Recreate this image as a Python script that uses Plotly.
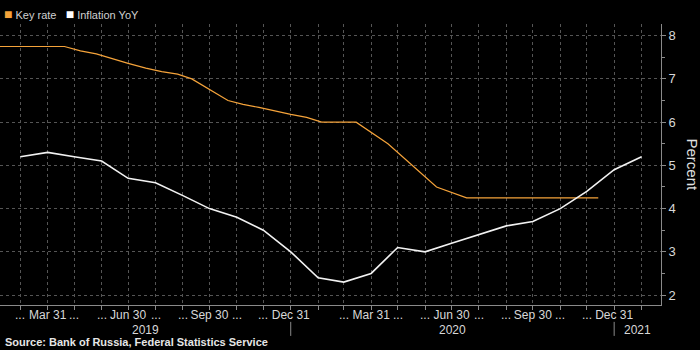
import plotly.graph_objects as go
import pandas as pd

# ---------------- data ----------------
infl_dates = ["2019-02-28", "2019-03-31", "2019-04-30", "2019-05-31", "2019-06-30", "2019-07-31",
              "2019-08-31", "2019-09-30", "2019-10-31", "2019-11-30", "2019-12-31",
              "2020-01-31", "2020-02-29", "2020-03-31", "2020-04-30", "2020-05-31", "2020-06-30",
              "2020-07-31", "2020-08-31", "2020-09-30", "2020-10-31", "2020-11-30", "2020-12-31",
              "2021-01-31"]
infl_values = [5.2, 5.3, 5.2, 5.1, 4.7, 4.6, 4.3, 4.0, 3.8, 3.5, 3.0,
               2.4, 2.3, 2.5, 3.1, 3.0, 3.2, 3.4, 3.6, 3.7, 4.0, 4.4, 4.9,
               5.2]

rate_dates = ["2019-01-31", "2019-04-19", "2019-05-07", "2019-05-25", "2019-06-30", "2019-07-20",
              "2019-08-07", "2019-08-25", "2019-09-10", "2019-10-21", "2019-11-07", "2019-11-25",
              "2019-12-31", "2020-01-18", "2020-02-04", "2020-03-14", "2020-04-19", "2020-06-13",
              "2020-07-17", "2020-12-13"]
rate_values = [7.75, 7.75, 7.65, 7.58, 7.36, 7.25,
               7.17, 7.11, 7.0, 6.5, 6.41, 6.34,
               6.18, 6.11, 6.0, 6.0, 5.5, 4.5,
               4.25, 4.25]

tick_dates = infl_dates
tick_labels = ["...", "Mar 31", "...", "...", "Jun 30", "...", "...", "Sep 30", "...", "...", "Dec 31",
               "", "...", "Mar 31", "...", "...", "Jun 30", "...", "...", "Sep 30", "...", "...", "Dec 31",
               ""]

years = ["2019", "2020", "2021"]
x_range = ["2019-02-05", "2021-02-22"]

source_text = "Source: Bank of Russia, Federal Statistics Service"

ORANGE = "#f5a33a"
WHITE = "#f2f2f2"
GRID = "#555555"
AXIS = "#8a8a8a"
TXT = "#d8d8d8"
FONT = "Liberation Sans, Arial, sans-serif"

# named quarter-end labels on the axis; "..." placeholders as text labels under their ticks
main_text = [t if t != "..." else "" for t in tick_labels]

fig = go.Figure()
fig.add_trace(go.Scatter(x=rate_dates, y=rate_values, mode="lines", name="Key rate",
                         line=dict(color=ORANGE, width=1.2), showlegend=False))
fig.add_trace(go.Scatter(x=infl_dates, y=infl_values, mode="lines", name="Inflation YoY",
                         line=dict(color=WHITE, width=1.6), showlegend=False))

annotations = []
shapes = []
for d, t in zip(tick_dates, tick_labels):
    if t == "...":
        annotations.append(dict(x=d, y=0, xref="x", yref="paper", yanchor="top", yshift=-1,
                                text=t, showarrow=False,
                                font=dict(size=12, color=TXT, family=FONT)))

# year labels and separators computed from the axis range
lo = pd.Timestamp(x_range[0])
hi = pd.Timestamp(x_range[1])
for y in years:
    start = max(lo, pd.Timestamp(f"{int(y)-1}-12-31"))
    end = min(hi, pd.Timestamp(f"{y}-12-31"))
    mid = start + (end - start) / 2
    annotations.append(dict(x=mid, y=-0.088, xref="x", yref="paper", text=y, showarrow=False,
                            font=dict(size=12, color=TXT, family=FONT), yanchor="middle"))
    if start > lo:
        shapes.append(dict(type="line", xref="x", yref="paper", x0=start, x1=start,
                           y0=-0.06, y1=-0.11, line=dict(color=AXIS, width=1)))

annotations.append(dict(x=0, y=-0.132, xref="paper", yref="paper", xanchor="left", yanchor="middle",
                        xshift=3, text=f"<b>{source_text}</b>", showarrow=False,
                        font=dict(size=11, color="#e6e6e6", family=FONT)))
annotations.append(dict(x=0, y=1.036, xref="paper", yref="paper", xanchor="left", yanchor="middle",
                        xshift=2, showarrow=False,
                        text=(f"<span style='color:{ORANGE};font-size:14px'>■</span> Key rate   "
                              f"<span style='color:#ffffff;font-size:14px'>■</span> Inflation YoY"),
                        font=dict(size=11, color="#d0d0d0", family=FONT)))
annotations.append(dict(x=1, y=0.5, xref="paper", yref="paper", xanchor="center", yanchor="middle",
                        xshift=31, textangle=90, text="Percent", showarrow=False,
                        font=dict(size=15, color="#e0e0e0", family=FONT)))

fig.update_layout(
    width=700, height=350,
    margin=dict(l=0, r=39, t=24, b=45),
    paper_bgcolor="#000000", plot_bgcolor="#000000",
    font=dict(family=FONT, color=TXT),
    annotations=annotations, shapes=shapes,
    xaxis=dict(type="date", range=x_range, tickvals=tick_dates, ticktext=main_text,
               tickangle=0, ticklabelstandoff=-5,
               ticks="outside", ticklen=4, tickcolor=AXIS, showline=True, linecolor=AXIS,
               showgrid=True, gridcolor=GRID, griddash="dot", gridwidth=1, zeroline=False,
               tickfont=dict(size=12, color=TXT), automargin=False),
    yaxis=dict(side="right", range=[1.77, 8.27], tickvals=[2, 3, 4, 5, 6, 7, 8],
               ticks="outside", ticklen=4, tickcolor=AXIS, showline=True, linecolor=AXIS,
               showgrid=True, gridcolor=GRID, griddash="dot", gridwidth=1, zeroline=False,
               minor=dict(dtick=0.5, ticks="outside", ticklen=3, tickcolor=AXIS, showgrid=False),
               tickfont=dict(size=13, color=TXT), automargin=False),
)

fig.write_html("out.html")
